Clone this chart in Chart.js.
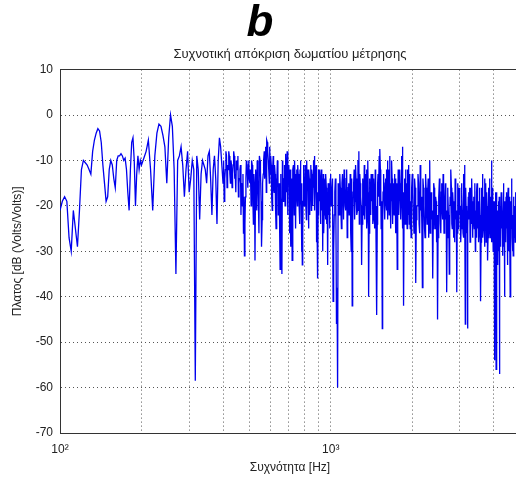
<!DOCTYPE html>
<html>
<head>
<meta charset="utf-8">
<script src="https://cdn.jsdelivr.net/npm/chart.js@4/dist/chart.umd.min.js"></script>
<style>
  html, body { margin: 0; padding: 0; background: #fff; overflow: hidden; }
  #wrap { width: 560px; height: 481px; }
</style>
</head>
<body>
<div id="wrap"><canvas id="chart" width="560" height="481"></canvas></div>
<script>
// Room response in segments (Hz / dB)
const freqsA = [100,102,104,106,108,110,112,114,116,118,120,122,124,126,128,130,132,134,136,138,
  140,142,144,146,148,150,152,154,156,158,160,162,164,166,168,170,172,174,176,178,
  180,182,184,186,188,190,192,194,196,198];
const levelsA = [-21,-19,-18,-19,-27,-30,-21,-25,-29,-21,
  -12,-10,-10.5,-11,-12,-13,-8,-5.5,-4,-3,
  -3.5,-6,-11,-15,-19,-18,-12,-10,-11,-14,
  -16,-10,-9,-9,-8.5,-9,-10,-9.5,-12,-17,
  -21,-12,-6,-5,-10,-20,-13,-9,-12,-10];

const freqsB = [200,204,208,212,216,220,224,228,232,236,240,244,248,252,256,260,264,268,272,276,
  280,284,288,292,296,300,304,308,312,316,320,324,328,332,336,340,344,348,352,356,
  360,364,368,372,376,380,384,388,392,396,400,404,408,412,416,420,424,428,432,436,
  440,444,448,452,456,460,464,468,472,476,480,484,488,492,496,500];
const levelsB = [-11,-9.5,-8,-5.5,-12,-21,-9,-4,-2,-2.5,
  -4.5,-7,-15,-5,0,-2.5,-12,-35,-10,-9,
  -7,-11,-18,-12,-8,-17,-14,-10,-12,-58.5,
  -9,-12,-23,-13,-10,-11,-12,-15,-9,-8,
  -14,-22,-12,-9,-14,-24,-10,-5,-7,-11,
  -15,-19,-12,-9,-11,-8,-13,-10,-16,-11,
  -9,-13,-10,-12,-18,-14,-11,-15,-20,-26,
  -31,-18,-10,-13,-11,-14];
const freqsB2 = [402,406,410,414,418,422,426,430,434,438,442,446,450,454,458,462,466,470,474,478,
  482,486,490,494,498];
const levelsB2 = [-10,-14,-8,-16,-12,-9,-15,-11,-13,-8,-14,-17,-11,-9,-15,-12,-22,-16,-13,-18,
  -24,-14,-12,-16,-10];

const freqsC = [505,510,515,520,525,530,535,540,545,550,555,560,565,570,575,580,585,590,595,600,
  605,610,615,620,625,630,635,640,645,650,655,660,665,670,675,680,685,690,695,700,
  705,710,715,720,725,730,735,740,745,750,755,760,765,770,775,780,785,790,795,800,
  805,810,815,820,825,830,835,840,845,850,855,860,865,870,875,880,885,890,895,900,
  905,910,915,920,925,930,935,940,945,950,955,960,965,970,975,980,985,990,995,1000];
const levelsC = [-12,-10,-17,-13,-32,-14,-10,-18,-9,-12,
  -29,-15,-10,-14,-7,-5.5,-8,-12,-7,-9,
  -18,-12,-16,-11,-20,-14,-10,-22,-15,-34,
  -18,-35,-13,-16,-11,-8.5,-12,-8,-15,-11,
  -26,-29,-14,-32,-12,-16,-10,-19,-13,-17,
  -11,-15,-21,-12,-17,-30,-33,-19,-13,-16,
  -11,-20,-10,-14,-18,-12,-22,-15,-17,-12,
  -19,-14,-10,-9,-16,-12,-18,-24,-36,-14,
  -17,-12,-21,-15,-19,-14,-30,-18,-22,-16,
  -20,-13,-24,-17,-33,-21,-15,-19,-14,-18];
const freqsC2 = [503,508,513,518,523,528,533,538,543,548,553,558,563,568,573,578,583,588,593,598,
  603,608,613,618,623,628,633,638,643,648,653,658,663,668,673,678,683,688,693,698,
  703,708,713,718,723,728,733,738,743,748,753,758,763,768,773,778,783,788,793,798,
  803,808,813,818,823,828,833,838,843,848,853,858,863,868,873,878,883,888,893,898,
  903,908,913,918,923,928,933,938,943,948,953,958,963,968,973,978,983,988,993,998];
const levelsC2 = [-15,-20,-11,-24,-16,-12,-21,-14,-26,-10,
  -19,-23,-13,-8,-11,-17,-6,-10,-15,-13,
  -11,-21,-9,-17,-13,-25,-16,-12,-19,-27,
  -13,-22,-10,-19,-14,-20,-9,-17,-22,-13,
  -18,-12,-24,-15,-20,-11,-22,-14,-25,-12,
  -20,-13,-16,-24,-10,-20,-15,-26,-11,-20,
  -17,-13,-23,-16,-12,-25,-14,-19,-11,-21,
  -13,-20,-16,-12,-21,-15,-11,-28,-17,-22,
  -12,-19,-16,-24,-12,-21,-17,-13,-26,-19,
  -14,-23,-16,-20,-27,-15,-22,-17,-25,-13];

const freqsD = [1010,1020,1030,1040,1050,1060,1070,1080,1090,1100,1110,1120,1130,1140,1150,1160,1170,1180,1190,1200,
  1210,1220,1230,1240,1250,1260,1270,1280,1290,1300,1310,1320,1330,1340,1350,1360,1370,1380,1390,1400,
  1410,1420,1430,1440,1450,1460,1470,1480,1490,1500,1510,1520,1530,1540,1550,1560,1570,1580,1590,1600,
  1610,1620,1630,1640,1650,1660,1670,1680,1690,1700,1710,1720,1730,1740,1750,1760,1770,1780,1790,1800,
  1810,1820,1830,1840,1850,1860,1870,1880,1890,1900,1910,1920,1930,1940,1950,1960,1970,1980,1990,2000];
const levelsD = [-16,-41,-22,-14,-46,-60,-18,-13,-21,-15,
  -17,-12,-20,-14,-27,-16,-22,-13,-30,-42,
  -17,-12,-19,-14,-22,-10,-8,-13,-18,-33,
  -15,-22,-11,-17,-13,-25,-10,-40,-16,-21,
  -13,-19,-24,-14,-20,-12,-28,-44,-15,-18,
  -9,-7.5,-16,-21,-47,-17,-13,-22,-15,-19,
  -12,-10,-18,-14,-9,-20,-15,-10,-23,-17,
  -21,-13,-19,-26,-15,-34,-20,-14,-18,-12,
  -21,-16,-9,-7,-18,-42,-15,-20,-12,-17,
  -22,-14,-19,-11,-24,-16,-21,-27,-18,-13];
const freqsD2 = [1005,1015,1025,1035,1045,1055,1065,1075,1085,1095,1105,1115,1125,1135,1145,1155,1165,1175,1185,1195,
  1205,1215,1225,1235,1245,1255,1265,1275,1285,1295,1305,1315,1325,1335,1345,1355,1365,1375,1385,1395,
  1405,1415,1425,1435,1445,1455,1465,1475,1485,1495,1505,1515,1525,1535,1545,1555,1565,1575,1585,1595,
  1605,1615,1625,1635,1645,1655,1665,1675,1685,1695,1705,1715,1725,1735,1745,1755,1765,1775,1785,1795,
  1805,1815,1825,1835,1845,1855,1865,1875,1885,1895,1905,1915,1925,1935,1945,1955,1965,1975,1985,1995];
const levelsD2 = [-20,-14,-30,-17,-24,-38,-15,-22,-16,-25,
  -13,-23,-16,-21,-12,-24,-15,-19,-26,-14,
  -24,-15,-23,-11,-17,-21,-13,-24,-15,-20,
  -24,-14,-19,-23,-20,-12,-22,-17,-26,-14,
  -22,-16,-13,-23,-17,-25,-15,-20,-24,-13,
  -16,-20,-12,-25,-19,-24,-15,-18,-23,-14,
  -21,-16,-23,-12,-22,-15,-25,-19,-14,-24,
  -15,-22,-17,-14,-23,-18,-25,-12,-22,-16,
  -15,-23,-14,-20,-25,-17,-23,-14,-24,-19,
  -15,-25,-12,-22,-17,-13,-25,-19,-23,-16];

const freqsE = [2020,2040,2060,2080,2100,2120,2140,2160,2180,2200,2220,2240,2260,2280,2300,2320,2340,2360,2380,2400,
  2420,2440,2460,2480,2500,2520,2540,2560,2580,2600,2620,2640,2660,2680,2700,2720,2740,2760,2780,2800,
  2820,2840,2860,2880,2900,2920,2940,2960,2980,3000,3020,3040,3060,3080,3100,3120,3140,3160,3180,3200,
  3220,3240,3260,3280,3300,3320,3340,3360,3380,3400,3420,3440,3460,3480,3500,3520,3540,3560,3580,3600,
  3620,3640,3660,3680,3700,3720,3740,3760,3780,3800,3820,3840,3860,3880,3900,3920,3940,3960,3980,4000,
  4020,4040,4060,4080,4100,4120,4140,4160,4180,4200,4220,4240,4260,4280,4300,4320,4340,4360,4380,4400,
  4420,4440,4460,4480,4500,4520,4540,4560,4580,4600,4620,4640,4660,4680,4700,4720,4740,4760,4780,4800,
  4820,4840,4860,4880,4900,4920,4940,4960,4980,5000];
const levelsE = [-22,-14,-37,-20,-13,-24,-11,-18,-38,-16,
  -25,-13,-21,-17,-27,-10,-19,-23,-36,-15,
  -22,-18,-28,-45,-20,-14,-24,-17,-21,-13,
  -26,-19,-23,-39,-16,-22,-35,-18,-12,-24,
  -17,-27,-20,-14,-23,-39,-19,-25,-16,-22,
  -28,-15,-21,-26,-13,-11,-46,-20,-24,-47,
  -18,-23,-16,-25,-20,-14,-27,-19,-23,-15,
  -30,-21,-17,-25,-19,-28,-16,-22,-41,-20,
  -26,-13,-24,-18,-29,-21,-15,-25,-20,-32,
  -18,-24,-14,-27,-21,-10,-26,-19,-30,-22,
  -54,-24,-17,-56,-28,-21,-33,-19,-26,-57,
  -23,-29,-17,-25,-21,-31,-15,-24,-40,-20,
  -27,-18,-25,-22,-33,-16,-26,-21,-29,-40,
  -19,-24,-14,-27,-22,-31,-18,-25,-20,-28,
  -17,-24,-21,-26,-19,-23,-27,-18,-25,-22];
const freqsE2 = [2010,2030,2050,2070,2090,2110,2130,2150,2170,2190,2210,2230,2250,2270,2290,2310,2330,2350,2370,2390,
  2410,2430,2450,2470,2490,2510,2530,2550,2570,2590,2610,2630,2650,2670,2690,2710,2730,2750,2770,2790,
  2810,2830,2850,2870,2890,2910,2930,2950,2970,2990,3010,3030,3050,3070,3090,3110,3130,3150,3170,3190,
  3210,3230,3250,3270,3290,3310,3330,3350,3370,3390,3410,3430,3450,3470,3490,3510,3530,3550,3570,3590,
  3610,3630,3650,3670,3690,3710,3730,3750,3770,3790,3810,3830,3850,3870,3890,3910,3930,3950,3970,3990,
  4010,4030,4050,4070,4090,4110,4130,4150,4170,4190,4210,4230,4250,4270,4290,4310,4330,4350,4370,4390,
  4410,4430,4450,4470,4490,4510,4530,4550,4570,4590,4610,4630,4650,4670,4690,4710,4730,4750,4770,4790,
  4810,4830,4850,4870,4890,4910,4930,4950,4970,4990];
const levelsE2 = [-17,-26,-16,-23,-20,-15,-26,-21,-24,-14,
  -20,-27,-16,-24,-14,-22,-26,-17,-21,-25,
  -16,-25,-19,-22,-27,-18,-20,-26,-15,-23,
  -18,-25,-15,-21,-27,-17,-23,-26,-20,-16,
  -25,-19,-23,-28,-17,-21,-26,-15,-24,-19,
  -20,-25,-17,-23,-27,-19,-22,-16,-26,-21,
  -25,-17,-22,-28,-16,-24,-21,-26,-18,-25,
  -17,-24,-27,-15,-23,-20,-26,-18,-24,-28,
  -16,-22,-27,-19,-25,-14,-23,-28,-17,-24,
  -27,-16,-22,-25,-18,-24,-28,-16,-23,-26,
  -19,-29,-22,-25,-17,-27,-21,-24,-30,-18,
  -26,-20,-28,-23,-17,-26,-22,-29,-19,-25,
  -21,-28,-17,-24,-27,-20,-23,-30,-18,-25,
  -28,-21,-25,-18,-30,-22,-26,-20,-27,-23,
  -26,-20,-28,-22,-25,-29,-21,-24,-27,-20];

const xTickValues = [100,200,300,400,500,600,700,800,900,1000,2000,3000,4000,5000];
const xTickLabels = { 100: '10²', 1000: '10³' };

const points = [];
[[freqsA, levelsA], [freqsB, levelsB], [freqsB2, levelsB2], [freqsC, levelsC], [freqsC2, levelsC2],
 [freqsD, levelsD], [freqsD2, levelsD2], [freqsE, levelsE], [freqsE2, levelsE2]]
  .forEach(([f, l]) => f.forEach((hz, i) => points.push({ x: hz, y: l[i] })));
points.sort((a, b) => a.x - b.x);

Chart.defaults.font.family = "'Liberation Sans', Arial, sans-serif";
Chart.defaults.color = '#222';

const dotted = [1, 3];

new Chart(document.getElementById('chart'), {
  type: 'line',
  data: {
    datasets: [{
      data: points,
      borderColor: '#0000ee',
      borderWidth: 1.3,
      pointRadius: 0,
      tension: 0
    }]
  },
  options: {
    responsive: false,
    animation: false,
    events: [],
    layout: { padding: { left: 0, right: 40, top: 0, bottom: 0 } },
    plugins: {
      legend: { display: false },
      tooltip: { enabled: false },
      title: {
        display: true,
        text: 'b',
        color: '#000',
        font: { size: 44, weight: 'bold', style: 'italic', lineHeight: 1 },
        padding: { top: 2, bottom: 0 }
      },
      subtitle: {
        display: true,
        fullSize: false,
        text: 'Συχνοτική απόκριση δωματίου μέτρησης',
        color: '#222',
        font: { size: 13 },
        padding: { top: 1, bottom: 7 }
      }
    },
    scales: {
      x: {
        type: 'logarithmic',
        min: 100,
        max: 5000,
        afterBuildTicks: scale => { scale.ticks = xTickValues.map(v => ({ value: v })); },
        afterFit: scale => { scale.height = 48; },
        ticks: {
          autoSkip: false,
          maxRotation: 0,
          padding: 9,
          font: { size: 12 },
          callback: v => xTickLabels[v] || ''
        },
        grid: { color: '#555', drawTicks: false },
        border: { color: '#333', dash: dotted },
        title: {
          display: true,
          text: 'Συχνότητα [Hz]',
          font: { size: 12 },
          padding: { top: 0, bottom: 6 }
        }
      },
      y: {
        min: -70,
        max: 10,
        afterFit: scale => { scale.width = 60; },
        ticks: { stepSize: 10, padding: 7, font: { size: 12 } },
        grid: {
          color: ctx => (ctx.tick && ctx.tick.value === 10 ? '#333' : '#555'),
          drawTicks: false
        },
        border: {
          color: '#333',
          dash: ctx => (ctx.tick && ctx.tick.value === 10 ? [] : dotted)
        },
        title: {
          display: true,
          text: 'Πλατος [dB (Volts/Volts)]',
          font: { size: 12 },
          padding: { top: 10, bottom: 0 }
        }
      }
    }
  }
});
</script>
</body>
</html>
